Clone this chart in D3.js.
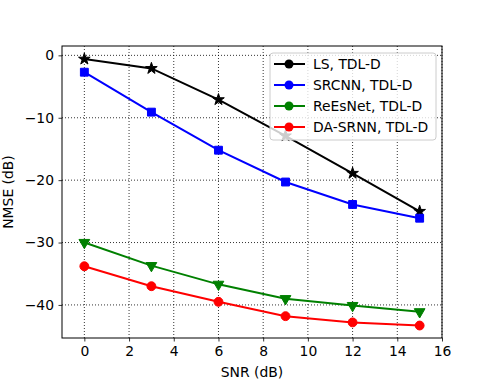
<!DOCTYPE html>
<html>
<head>
<meta charset="utf-8">
<script src="https://cdn.jsdelivr.net/npm/d3@7"></script>
<style>
  html, body { margin: 0; padding: 0; background: #fff; }
  svg { display: block; font-family: "DejaVu Sans", sans-serif; }
</style>
</head>
<body>
<div id="chart"></div>
<script>
(function () {
  'use strict';

  // Data
  const snr = [0, 3, 6, 9, 12, 15];
  const lsVals      = [-0.6, -2.1, -7.1, -12.9, -18.9, -25.0];
  const srcnnVals   = [-2.7, -9.1, -15.2, -20.3, -23.9, -26.1];
  const reesnetVals = [-30.0, -33.7, -36.7, -39.0, -40.1, -41.1];
  const dasrnnVals  = [-33.8, -37.0, -39.5, -41.8, -42.8, -43.3];
  const xTicks = [0, 2, 4, 6, 8, 10, 12, 14, 16];
  const yTicks = [0, -10, -20, -30, -40];

  const series = [
    { name: 'LS, TDL-D',      values: lsVals,      color: '#000000', marker: 'star' },
    { name: 'SRCNN, TDL-D',   values: srcnnVals,   color: '#0000ff', marker: 'square' },
    { name: 'ReEsNet, TDL-D', values: reesnetVals, color: '#008000', marker: 'tri' },
    { name: 'DA-SRNN, TDL-D', values: dasrnnVals,  color: '#ff0000', marker: 'circle' },
  ];

  const FS = 13.9;
  const W = 491, H = 380;
  const margin = { top: 46, right: 49, bottom: 42, left: 62 };
  const w = W - margin.left - margin.right;
  const h = H - margin.top - margin.bottom;

  const svg = d3.select('#chart').append('svg')
    .attr('width', W).attr('height', H);

  const g = svg.append('g').attr('transform', `translate(${margin.left},${margin.top})`);

  const x = d3.scaleLinear().domain([-1, 16]).range([0, w]);
  const y = d3.scaleLinear().domain([-45.3, 1.5]).range([h, 0]);

  // Grid (dotted)
  g.append('g').selectAll('line').data(xTicks).join('line')
    .attr('x1', d => x(d)).attr('x2', d => x(d))
    .attr('y1', 0).attr('y2', h)
    .attr('stroke', '#000').attr('stroke-width', 0.8).attr('stroke-dasharray', '1,2');
  g.append('g').selectAll('line').data(yTicks).join('line')
    .attr('x1', 0).attr('x2', w)
    .attr('y1', d => y(d)).attr('y2', d => y(d))
    .attr('stroke', '#000').attr('stroke-width', 0.8).attr('stroke-dasharray', '1,2');

  // Axes
  const fmt = d => (d < 0 ? '\u2212' + Math.abs(d) : String(d));
  const xAxis = g.append('g').attr('transform', `translate(0,${h})`)
    .call(d3.axisBottom(x).tickValues(xTicks).tickFormat(fmt).tickSize(3.5).tickPadding(5));
  const yAxis = g.append('g')
    .call(d3.axisLeft(y).tickValues(yTicks).tickFormat(fmt).tickSize(3.5).tickPadding(4.5));
  [xAxis, yAxis].forEach(a => {
    a.select('.domain').remove();
    a.attr('font-size', FS).attr('font-family', '"DejaVu Sans", sans-serif');
    a.selectAll('text').attr('fill', '#000');
    a.selectAll('line').attr('stroke', '#000').attr('stroke-width', 0.8);
  });

  // Lines and markers
  const line = d3.line().x((d, i) => x(snr[i])).y(d => y(d));
  const symbolFor = m => {
    if (m === 'star') return d3.symbol().type(d3.symbolStar).size(42)();
    if (m === 'square') return d3.symbol().type(d3.symbolSquare).size(62)();
    if (m === 'circle') return d3.symbol().type(d3.symbolCircle).size(62)();
    return d3.symbol().type(d3.symbolTriangle).size(50)();
  };

  series.forEach(s => {
    g.append('path').datum(s.values)
      .attr('d', line)
      .attr('fill', 'none').attr('stroke', s.color).attr('stroke-width', 2);
    g.append('g').selectAll('path').data(s.values).join('path')
      .attr('d', symbolFor(s.marker))
      .attr('transform', (d, i) => `translate(${x(snr[i])},${y(d)})` + (s.marker === 'tri' ? ' rotate(180)' : ''))
      .attr('fill', s.color).attr('stroke', s.color).attr('stroke-width', 1);
  });

  // Frame
  g.append('rect').attr('x', 0).attr('y', 0).attr('width', w).attr('height', h)
    .attr('fill', 'none').attr('stroke', '#000').attr('stroke-width', 1);

  // Axis labels
  svg.append('text')
    .attr('x', margin.left + w / 2).attr('y', H - 3)
    .attr('text-anchor', 'middle').attr('font-size', FS).text('SNR (dB)');
  svg.append('text')
    .attr('transform', `translate(13,${margin.top + h / 2}) rotate(-90)`)
    .attr('text-anchor', 'middle').attr('font-size', FS).text('NMSE (dB)');

  // Legend
  const leg = svg.append('g').attr('transform', 'translate(270,53)');
  leg.append('rect').attr('width', 166).attr('height', 87).attr('rx', 3)
    .attr('fill', '#fff').attr('fill-opacity', 0.8)
    .attr('stroke', '#cccccc').attr('stroke-width', 1);
  series.forEach((s, i) => {
    const ly = 11 + i * 21;
    leg.append('line').attr('x1', 4).attr('x2', 35).attr('y1', ly).attr('y2', ly)
      .attr('stroke', s.color).attr('stroke-width', 2);
    leg.append('circle').attr('cx', 19).attr('cy', ly).attr('r', 4.5).attr('fill', s.color);
    leg.append('text').attr('x', 43).attr('y', ly + 5)
      .attr('font-size', FS).attr('fill', '#000').text(s.name);
  });
})();
</script>
</body>
</html>
